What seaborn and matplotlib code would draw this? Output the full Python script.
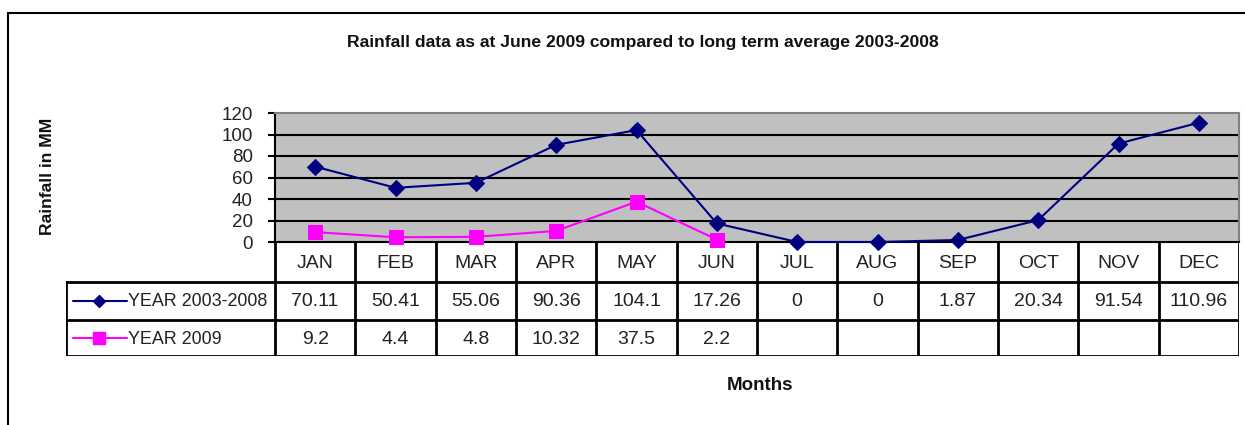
import pandas as pd
import matplotlib.pyplot as plt
from matplotlib.lines import Line2D
import seaborn as sns

# data
months = ['JAN', 'FEB', 'MAR', 'APR', 'MAY', 'JUN', 'JUL', 'AUG', 'SEP', 'OCT', 'NOV', 'DEC']
avg_2003_2008 = [70.11, 50.41, 55.06, 90.36, 104.1, 17.26, 0, 0, 1.87, 20.34, 91.54, 110.96]
year_2009 = [9.2, 4.4, 4.8, 10.32, 37.5, 2.2]
avg_labels = ['70.11', '50.41', '55.06', '90.36', '104.1', '17.26', '0', '0', '1.87', '20.34', '91.54', '110.96']
y2009_labels = ['9.2', '4.4', '4.8', '10.32', '37.5', '2.2']
series_names = ['YEAR 2003-2008', 'YEAR 2009']
yticks = [0, 20, 40, 60, 80, 100, 120]

navy = '#000080'
magenta = '#FF00FF'

sns.set_style('white')
plt.rcParams['font.family'] = ['Liberation Sans', 'DejaVu Sans']

W, H = 1245, 425
fig = plt.figure(figsize=(W / 100, H / 100), dpi=100)

# plot area in pixels
px_left, px_right, px_top, px_bot = 275, 1239, 113, 242
tab_left, tab_bot = 66, 356

ax = fig.add_axes([px_left / W, 1 - px_bot / H, (px_right - px_left) / W, (px_bot - px_top) / H])
ax.set_facecolor('#C0C0C0')

df1 = pd.DataFrame({'x': range(len(months)), 'val': avg_2003_2008})
df2 = pd.DataFrame({'x': range(len(year_2009)), 'val': year_2009})
sns.lineplot(data=df1, x='x', y='val', ax=ax, color=navy, marker='D', markersize=7.8,
             markeredgecolor=navy, linewidth=1.5, zorder=4, clip_on=False)
sns.lineplot(data=df2, x='x', y='val', ax=ax, color=magenta, marker='s', markersize=9.5,
             markeredgecolor=magenta, linewidth=1.5, zorder=4, clip_on=False)

ax.set_xlim(-0.5, len(months) - 0.5)
ax.set_ylim(0, 120)
ax.set_yticks(yticks)
ax.set_xticks([])
ax.set_xlabel('')
ax.set_ylabel('')
for v in yticks[1:-1]:
    ax.axhline(v, color='black', lw=1.5, zorder=2)
ax.tick_params(axis='y', length=5, width=1.5, color='black', labelsize=13.5, pad=11, left=True,
               labelcolor='#222222')
for s in ['top', 'right']:
    ax.spines[s].set_color('#808080')
    ax.spines[s].set_linewidth(1.5)
ax.spines['left'].set_color('black')
ax.spines['left'].set_linewidth(1.5)
ax.spines['bottom'].set_color('black')
ax.spines['bottom'].set_linewidth(1.5)

# data table below the plot, sharing the column scale
unit = (px_right - px_left) / len(months)
tab = fig.add_axes([tab_left / W, 1 - tab_bot / H, (px_right - tab_left) / W, (tab_bot - px_bot) / H])
x0 = -0.5 - (px_left - tab_left) / unit
tab.set_xlim(x0, len(months) - 0.5)
tab.set_ylim(tab_bot, px_bot)
tab.axis('off')

row1, row2 = 282, 320
lw = 2
for k in range(len(months) + 1):
    tab.plot([k - 0.5, k - 0.5], [px_bot, tab_bot], color='black', lw=lw, solid_capstyle='projecting')
tab.plot([x0, x0], [row1, tab_bot], color='black', lw=lw, solid_capstyle='projecting')
for yy in [row1, row2, tab_bot]:
    tab.plot([x0, len(months) - 0.5], [yy, yy], color='black', lw=lw, solid_capstyle='projecting')

for i, m in enumerate(months):
    tab.text(i, (px_bot + row1) / 2 + 1, m, ha='center', va='center', fontsize=14, color='#222222')
for i, t in enumerate(avg_labels):
    tab.text(i, (row1 + row2) / 2 + 1, t, ha='center', va='center', fontsize=14, color='#222222')
for i, t in enumerate(y2009_labels):
    tab.text(i, (row2 + tab_bot) / 2 + 1, t, ha='center', va='center', fontsize=14, color='#222222')

def px2x(p):
    return x0 + (p - tab_left) / unit

for yy, col, mk, ms, name in [((row1 + row2) / 2, navy, 'D', 7.5, series_names[0]),
                               ((row2 + tab_bot) / 2, magenta, 's', 9.5, series_names[1])]:
    tab.plot([px2x(73), px2x(127)], [yy, yy], color=col, lw=1.5)
    tab.plot([px2x(99)], [yy], marker=mk, color=col, markersize=ms * 0.85, markeredgecolor=col)
    tab.text(px2x(128), yy + 1, name, ha='left', va='center', fontsize=12.9, color='#222222')

fig.text(643 / W, 1 - 42 / H, 'Rainfall data as at June 2009 compared to long term average 2003-2008',
         ha='center', va='center', fontsize=12.6, fontweight='bold', color='#111111')
fig.text(47 / W, 1 - 176 / H, 'Rainfall in MM', ha='center', va='center', rotation=90,
         fontsize=12.6, fontweight='bold', color='#111111')
fig.text(760 / W, 1 - 385 / H, 'Months', ha='center', va='center', fontsize=13.5, fontweight='bold',
         color='#111111')

# outer chart frame (runs off the right and bottom edge)
fig.add_artist(Line2D([8 / W, 1.01], [1 - 13 / H, 1 - 13 / H], color='black', lw=1.5))
fig.add_artist(Line2D([8 / W, 8 / W], [1 - 13 / H, -0.01], color='black', lw=1.5))

fig.savefig('out.png', dpi=100)
